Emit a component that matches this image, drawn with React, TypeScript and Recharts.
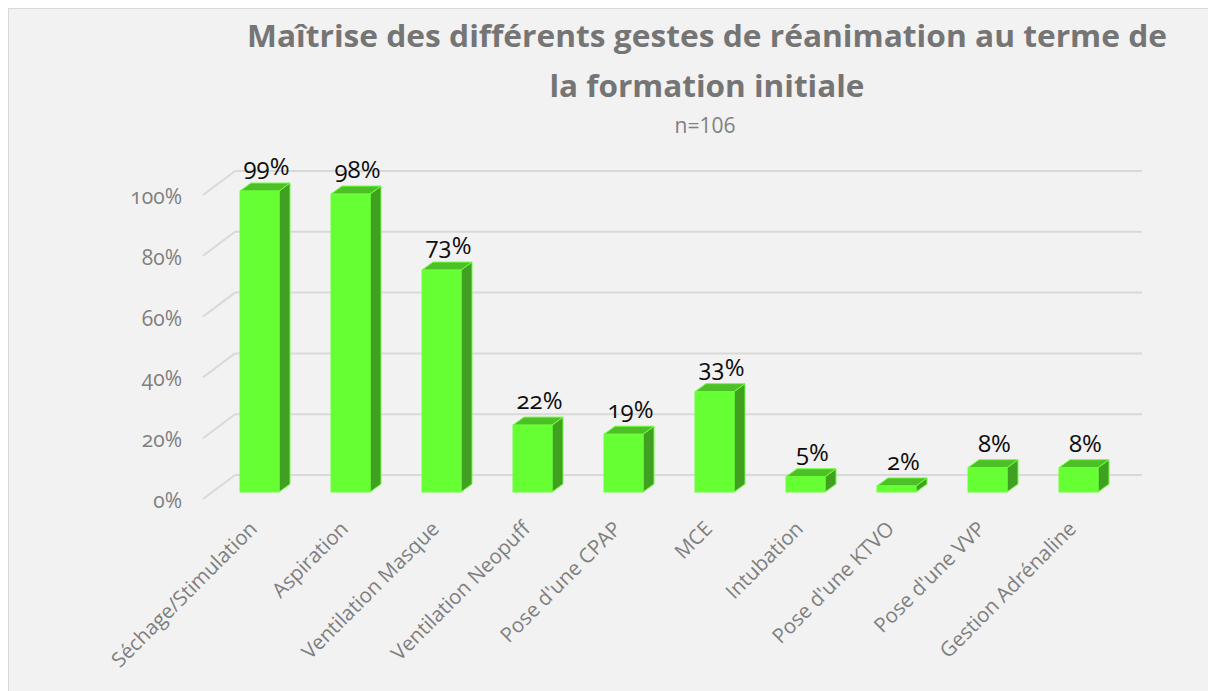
import React from "react";
import { BarChart, Bar, XAxis, YAxis, CartesianGrid, LabelList } from "recharts";

const categories = [
  "Séchage/Stimulation",
  "Aspiration",
  "Ventilation Masque",
  "Ventilation Neopuff",
  "Pose d'une CPAP",
  "MCE",
  "Intubation",
  "Pose d'une KTVO",
  "Pose d'une VVP",
  "Gestion Adrénaline",
];
const values = [99, 98, 73, 22, 19, 33, 5, 2, 8, 8];
const yTicks = [0, 20, 40, 60, 80, 100];
const titleLine1 = "Maîtrise des différents gestes de réanimation au terme de";
const titleLine2 = "la formation initiale";
const subtitle = "n=106";

const data = categories.map((name, i) => ({ name, value: values[i] }));

const W = 1207;
const H = 682;
const DX = 11;
const DY = 8;
const FRONT = "#66FF33";
const TOP = "#4EC027";
const SIDE = "#40A021";
const EDGE = "#6CFF3A";
const AXIS_FONT = "'Open Sans', 'DejaVu Sans', sans-serif";

const Bar3D = (props: any) => {
  const { x, y, width, height } = props;
  if (width == null || height == null) return null;
  const x2 = x + width;
  const yb = y + height;
  return (
    <g>
      <polygon
        points={`${x2},${y} ${x2 + DX},${y - DY} ${x2 + DX},${yb - DY} ${x2},${yb}`}
        fill={SIDE}
        stroke={EDGE}
        strokeWidth={1}
        strokeLinejoin="round"
      />
      <polygon
        points={`${x},${y} ${x + DX},${y - DY} ${x2 + DX},${y - DY} ${x2},${y}`}
        fill={TOP}
        stroke={EDGE}
        strokeWidth={1}
        strokeLinejoin="round"
      />
      <rect x={x} y={y} width={width} height={height} fill={FRONT} stroke={EDGE} strokeWidth={1} />
    </g>
  );
};

const GridLine = (props: any) => {
  const { x1, x2, y1 } = props;
  return (
    <g key={props.key}>
      <line x1={x1 - 11} y1={y1 + 7} x2={x1 + 21} y2={y1 - 17} stroke="#D9D9D9" strokeWidth={2} />
      <line x1={x1 + 21} y1={y1 - 17} x2={x2 + 18} y2={y1 - 17} stroke="#D9D9D9" strokeWidth={2} />
    </g>
  );
};

const YTick = (props: any) => {
  const { y, payload } = props;
  return (
    <text
      x={173}
      y={y + 8}
      textAnchor="end"
      dominantBaseline="central"
      fontFamily={AXIS_FONT}
      fontSize={21}
      fill="#7F7F7F"
      style={{ fontFeatureSettings: "'onum'" }}
    >
      {`${payload.value}%`}
    </text>
  );
};

const XTick = (props: any) => {
  const { x, payload } = props;
  const ax = x - 1;
  const ay = 521;
  return (
    <text
      x={ax}
      y={ay}
      transform={`rotate(-45 ${ax} ${ay})`}
      textAnchor="end"
      fontFamily={AXIS_FONT}
      fontSize={20.5}
      fill="#7F7F7F"
    >
      {payload.value}
    </text>
  );
};

const ValueLabel = (props: any) => {
  const { x, y, width, value } = props;
  return (
    <text
      x={x + width / 2 + 7}
      y={y - 16}
      textAnchor="middle"
      fontFamily={AXIS_FONT}
      fontSize={24}
      fill="#0D0D0D"
      style={{ fontFeatureSettings: "'onum'" }}
    >
      {`${value}%`}
    </text>
  );
};

export default function App() {
  return (
    <div
      style={{
        position: "relative",
        width: 1208,
        height: 683,
        boxSizing: "border-box",
        borderLeft: "1px solid #D9D9D9",
        borderTop: "1px solid #D9D9D9",
        background: "#F2F2F2",
        overflow: "hidden",
      }}
    >
      <BarChart
        width={W}
        height={H}
        data={data}
        margin={{ top: 179, right: 92, bottom: 49, left: 145 }}
      >
        <CartesianGrid vertical={false} horizontal={GridLine as any} />
        <XAxis
          dataKey="name"
          interval={0}
          axisLine={false}
          tickLine={false}
          tick={<XTick />}
          height={150}
        />
        <YAxis
          domain={[0, 100]}
          ticks={yTicks}
          axisLine={false}
          tickLine={false}
          tick={<YTick />}
          width={60}
        />
        <Bar dataKey="value" barSize={39} shape={<Bar3D />} isAnimationActive={false}>
          <LabelList dataKey="value" content={<ValueLabel />} />
        </Bar>
      </BarChart>
      <svg
        width={W}
        height={H}
        style={{ position: "absolute", left: 0, top: 0, pointerEvents: "none" }}
      >
        <text
          x={698}
          y={38}
          textAnchor="middle"
          fontFamily={AXIS_FONT}
          fontWeight={700}
          fontSize={30}
          fill="#757575"
          textLength={920}
          lengthAdjust="spacingAndGlyphs"
        >
          {titleLine1}
        </text>
        <text
          x={698}
          y={88}
          textAnchor="middle"
          fontFamily={AXIS_FONT}
          fontWeight={700}
          fontSize={30}
          fill="#757575"
          textLength={315}
          lengthAdjust="spacingAndGlyphs"
        >
          {titleLine2}
        </text>
        <text
          x={696}
          y={124}
          textAnchor="middle"
          fontFamily={AXIS_FONT}
          fontSize={21}
          fill="#808080"
        >
          {subtitle}
        </text>
      </svg>
    </div>
  );
}
